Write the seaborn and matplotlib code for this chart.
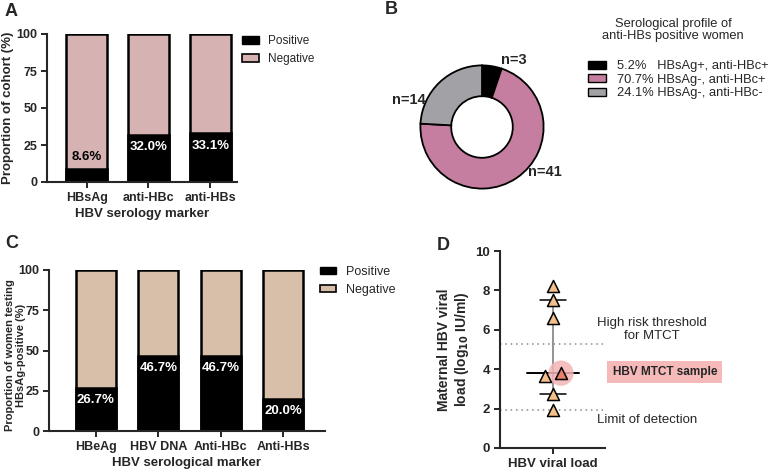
import numpy as np
import matplotlib
matplotlib.use("Agg")
import matplotlib.pyplot as plt
from matplotlib.patches import Patch
import seaborn as sns

sns.set_style("ticks")
plt.rcParams['font.family'] = ['Liberation Sans', 'DejaVu Sans']

# Panel A - serology of the whole cohort
a_markers = ["HBsAg", "anti-HBc", "anti-HBs"]
a_positive = [8.6, 32.0, 33.1]

# Panel B - anti-HBs positive women
b_counts = [3, 41, 14]
b_pct = [5.2, 70.7, 24.1]
b_labels = ["HBsAg+, anti-HBc+", "HBsAg-, anti-HBc+", "HBsAg-, anti-HBc-"]

# Panel C - HBsAg positive women
c_markers = ["HBeAg", "HBV DNA", "Anti-HBc", "Anti-HBs"]
c_positive = [26.7, 46.7, 46.7, 20.0]

# Panel D - viral loads (log10 IU/ml)
d_loads = [8.2, 7.5, 6.6, 3.65, 3.8, 2.75, 1.95]
d_mtct = 4  # index of the MTCT sample
high_risk = 5.3
lod = 1.93

W, H = 768, 470
fig = plt.figure(figsize=(W / 100, H / 100), dpi=100)

def px_axes(left, top, right, bottom):
    return fig.add_axes([left / W, 1 - bottom / H, (right - left) / W, (bottom - top) / H])

def style_axes(ax, size=9):
    for s in ["left", "bottom"]:
        ax.spines[s].set_linewidth(1.5)
    sns.despine(ax=ax)
    ax.tick_params(width=1.4, length=4.5, labelsize=size, pad=2.5)
    for t in ax.get_xticklabels() + ax.get_yticklabels():
        t.set_fontweight("bold")

def stacked(ax, markers, positive, neg_color, offset, width):
    sns.barplot(x=markers, y=[100] * len(markers), color=neg_color, saturation=1,
                width=width, edgecolor="black", linewidth=1.8, ax=ax)
    sns.barplot(x=markers, y=positive, color="black", saturation=1,
                width=width, edgecolor="black", linewidth=1.8, ax=ax)
    for i, v in enumerate(positive):
        if v > 15:
            ax.text(i, v - offset, f"{v:.1f}%", color="white", ha="center", va="center",
                    fontsize=9.5, fontweight="bold")
        else:
            ax.text(i, v + 8, f"{v:.1f}%", color="black", ha="center", va="center",
                    fontsize=9.5, fontweight="bold")
    ax.set_ylim(0, 100)
    ax.set_yticks([0, 25, 50, 75, 100])
    ax.legend(handles=[Patch(facecolor="black", edgecolor="black", label="Positive"),
                       Patch(facecolor=neg_color, edgecolor="black", linewidth=1.2, label="Negative")],
              frameon=False, fontsize=8.5, handlelength=1.4, handleheight=0.6,
              loc="upper left", bbox_to_anchor=(1.0, 1.03), borderaxespad=0.2)

# ---- A
axA = px_axes(47, 34, 237, 182)
stacked(axA, a_markers, a_positive, "#D6B2B2", 8.5, 0.66)
axA.set_xlim(-0.64, 2.43)
axA.set_ylabel("Proportion of cohort (%)", fontsize=9.5, fontweight="bold")
axA.yaxis.set_label_coords(-0.175, 0.5)
axA.set_xlabel("HBV serology marker", fontsize=9.5, fontweight="bold", labelpad=3)
style_axes(axA)
axA.get_legend().set_bbox_to_anchor((0.99, 1.04))
axA.get_legend()._legend_box.sep = 4
fig.text(5 / W, 1 - 12 / H, "A", fontsize=13, fontweight="bold", va="center")

# ---- B
axB = px_axes(405, 50, 559, 204)
b_colors = ["black", "#C57E9F", "#A2A1A6"]
axB.pie(b_counts, startangle=90, counterclock=False, colors=b_colors,
        wedgeprops=dict(width=0.5, edgecolor="black", linewidth=1.3))
axB.set_aspect("equal")
axB.text(0.52, 1.09, f"n={b_counts[0]}", fontsize=10.5, fontweight="bold", ha="center", va="center")
axB.text(-1.19, 0.44, f"n={b_counts[2]}", fontsize=10.5, fontweight="bold", ha="center", va="center")
axB.text(1.02, -0.73, f"n={b_counts[1]}", fontsize=10.5, fontweight="bold", ha="center", va="center")
hB = [Patch(facecolor=c, edgecolor="black", linewidth=1.0,
            label=f"{p:.1f}%" + ("   " if p < 10 else " ") + l)
      for c, p, l in zip(b_colors, b_pct, b_labels)]
legB = fig.legend(handles=hB, frameon=False, fontsize=9.3, handlelength=1.4, handleheight=0.6,
                  loc="upper left", bbox_to_anchor=(583 / W, 1 - 55 / H), labelspacing=0.12,
                  handletextpad=0.8, borderaxespad=0)
fig.text(673 / W, 1 - 30 / H, "Serological profile of\nanti-HBs positive women", fontsize=9.3,
         ha="center", va="center", linespacing=1.1)
fig.text(385 / W, 1 - 10 / H, "B", fontsize=13, fontweight="bold", va="center")

# ---- C
axC = px_axes(49, 270, 325, 431)
stacked(axC, c_markers, c_positive, "#D8BFA9", 7.5, 0.64)
axC.set_xlim(-0.75, 3.67)
axC.set_ylabel("Proportion of women testing\nHBsAg-positive (%)", fontsize=8, fontweight="bold",
               linespacing=1.1)
axC.yaxis.set_label_coords(-0.085, 0.47)
axC.set_xlabel("HBV serological marker", fontsize=9.5, fontweight="bold", labelpad=3)
style_axes(axC)
axC.get_legend().set_bbox_to_anchor((0.955, 1.07))
plt.setp(axC.get_legend().get_texts(), fontsize=9)
axC.get_legend()._legend_box.sep = 1
fig.text(5 / W, 1 - 243 / H, "C", fontsize=13, fontweight="bold", va="center")

# ---- D
axD = px_axes(500, 251, 605, 448)
x_off = [0, 0, 0, -0.15, 0.15, 0, 0]
q1, med, q3 = np.percentile(d_loads, [25, 50, 75], method="weibull")
axD.plot([0, 0], [q1, q3], color="#808080", lw=1.2, zorder=1)
axD.plot([-0.49, 0.49], [med, med], color="black", lw=1.4, zorder=2)
for q in (q1, q3):
    axD.plot([-0.25, 0.25], [q, q], color="black", lw=1.1, zorder=2)
sns.scatterplot(x=[x_off[d_mtct]], y=[d_loads[d_mtct]], s=330, color="#F4B4B4",
                edgecolor="none", alpha=0.85, ax=axD, zorder=2)
others = [i for i in range(len(d_loads)) if i != d_mtct]
sns.scatterplot(x=[x_off[i] for i in others], y=[d_loads[i] for i in others], marker="^",
                s=75, color="#F3C08C", edgecolor="black", linewidth=1.1, ax=axD, zorder=3)
sns.scatterplot(x=[x_off[d_mtct]], y=[d_loads[d_mtct]], marker="^",
                s=75, color="#E8806A", edgecolor="black", linewidth=1.1, ax=axD, zorder=3)
axD.axhline(high_risk, color="#888888", lw=1.1, ls=(0, (1, 2.5)), xmax=0.98)
axD.axhline(lod, color="#888888", lw=1.1, ls=(0, (1, 2.5)), xmax=0.98)
axD.set_xlim(-1, 0.98)
axD.set_ylim(0, 10)
axD.set_yticks([0, 2, 4, 6, 8, 10])
axD.set_xticks([0])
axD.set_xticklabels(["HBV viral load"])
axD.set_ylabel("Maternal HBV viral\nload (log$_{\\mathbf{10}}$ IU/ml)", fontsize=10, fontweight="bold",
               linespacing=1.1)
axD.yaxis.set_label_coords(-0.28, 0.5)
style_axes(axD, size=9.5)
axD.text(1.87, 6.0, "High risk threshold\nfor MTCT", fontsize=9.5, ha="center", va="center",
         linespacing=1.1, clip_on=False)
axD.text(1.78, 1.42, "Limit of detection", fontsize=9.5, ha="center", va="center", clip_on=False)
axD.text(2.11, 3.85, "HBV MTCT sample", fontsize=8.5, fontweight="bold", ha="center", va="center",
         clip_on=False, bbox=dict(boxstyle="square,pad=0.45", facecolor="#F6B9B9", edgecolor="none"))
fig.text(437 / W, 1 - 245 / H, "D", fontsize=13, fontweight="bold", va="center")

fig.savefig("out.png", dpi=100)
